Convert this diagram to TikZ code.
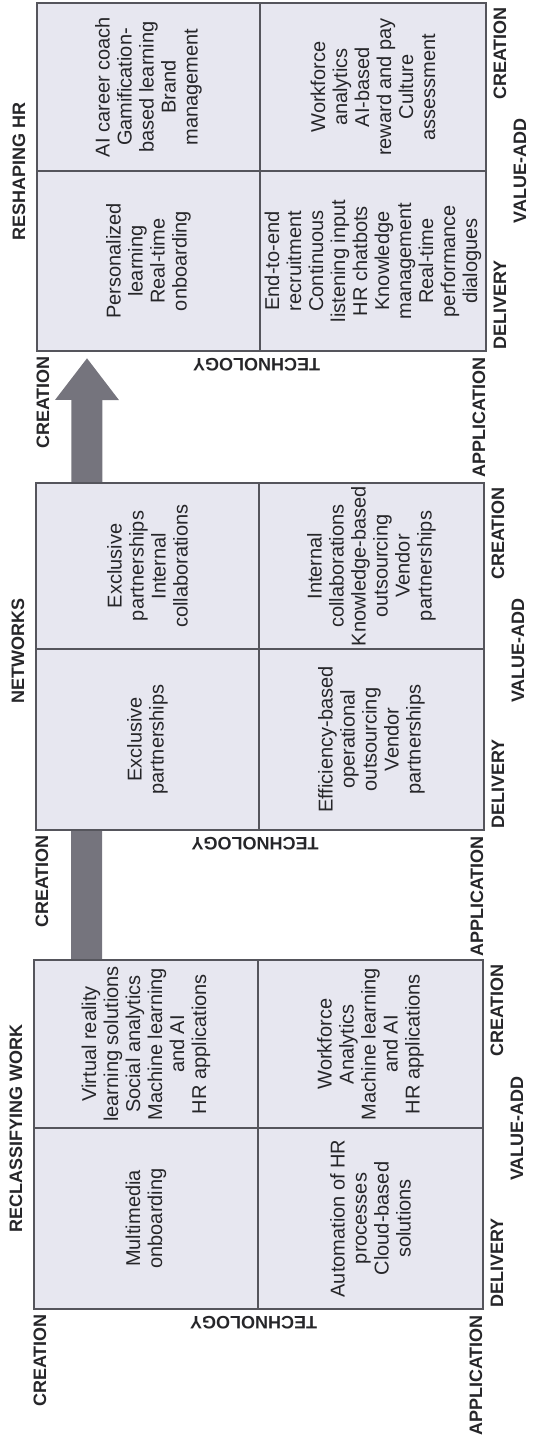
\documentclass[tikz,border=0pt]{standalone}
\usepackage{fontspec}
\setmainfont{Liberation Sans}
\usetikzlibrary{arrows.meta}
\definecolor{boxfill}{HTML}{E7E7F0}
\definecolor{boxline}{HTML}{55555C}
\definecolor{arrowgray}{HTML}{75747D}
\definecolor{ink}{HTML}{262629}

% One quadrant panel: #1 name, #2 left, #3 top, #4 right, #5 bottom,
% #6 column split, #7 row split, #8 title
\newcommand\hrpanel[8]{%
  \pgfmathsetmacro\pxc{(#2+#4)/2}%
  \pgfmathsetmacro\pyc{(#3+#5)/2}%
  \draw[panel] (#2,#3) rectangle (#4,#5);
  \draw[divider] (#6,#3) -- (#6,#5);
  \draw[divider] (#2,#7) -- (#4,#7);
  \coordinate (#1-a) at ({(#2+#6)/2},{(#3+#7)/2});
  \coordinate (#1-b) at ({(#2+#6)/2},{(#7+#5)/2});
  \coordinate (#1-c) at ({(#6+#4)/2},{(#3+#7)/2});
  \coordinate (#1-d) at ({(#6+#4)/2},{(#7+#5)/2});
  \node[axislabel, rotate=90] (#1-title) at ({#2-18},{\pyc-6}) {#8};
  \node[axislabel, rotate=90, anchor=east] (#1-create) at ({#2+6},{#5+5}) {CREATION};
  \node[axislabel, rotate=180] (#1-tech) at ({\pxc-5},{#5+14}) {TECHNOLOGY};
  \node[axislabel, rotate=90, anchor=east] (#1-apply) at ({#4-7},{#5+6}) {APPLICATION};
  \node[axislabel, rotate=90, anchor=west] (#1-deliv) at ({#4+14},{#5-1}) {DELIVERY};
  \node[axislabel, rotate=90] (#1-value) at ({#4+34},{\pyc-6}) {VALUE-ADD};
  \node[axislabel, rotate=90, anchor=east] (#1-vcreate) at ({#4+14},{#3+4}) {CREATION};
}

\begin{document}
\begin{tikzpicture}[x=1pt,y=-1pt,
  panel/.style={draw=boxline, fill=boxfill, line width=1.1pt},
  divider/.style={draw=boxline, line width=1.1pt},
  celltext/.style={rotate=90, align=center, text=ink, inner sep=0pt,
    font=\fontsize{20}{22}\selectfont},
  axislabel/.style={text=ink, inner sep=0pt,
    font=\bfseries\fontsize{18}{18}\selectfont},
  bigarrow/.style={draw=arrowgray, line width=31pt,
    -{Triangle[length=42pt,width=61pt,fill=arrowgray]}}]

\useasboundingbox (0,0) rectangle (541,1443);

% progression arrow, running behind the middle panel
\coordinate (arrow-start) at (86.5,960);
\coordinate (arrow-end) at (87,358);
\draw[bigarrow] (arrow-start) -- (arrow-end);

% panels
\hrpanel{p1}{37}{3}{486}{351}{260}{171}{RESHAPING HR}
\hrpanel{p2}{36}{483}{484}{830}{259}{649}{NETWORKS}
\hrpanel{p3}{34}{960}{483}{1309}{258}{1128}{RECLASSIFYING WORK}

% reshaping HR
\node[celltext] (p1-ta) at (p1-a) {AI career coach\\Gamification-\\based learning\\Brand\\management};
\node[celltext] (p1-tb) at (p1-b) {Personalized\\learning\\Real-time\\onboarding};
\node[celltext] (p1-tc) at (p1-c) {Workforce\\analytics\\AI-based\\reward and pay\\Culture\\assessment};
\node[celltext] (p1-td) at (p1-d) {End-to-end\\recruitment\\Continuous\\listening input\\HR chatbots\\Knowledge\\management\\Real-time\\performance\\dialogues};

% networks
\node[celltext] (p2-ta) at (p2-a) {Exclusive\\partnerships\\Internal\\collaborations};
\node[celltext] (p2-tb) at (p2-b) {Exclusive\\partnerships};
\node[celltext] (p2-tc) at (p2-c) {Internal\\collaborations\\Knowledge-based\\outsourcing\\Vendor\\partnerships};
\node[celltext] (p2-td) at (p2-d) {Efficiency-based\\operational\\outsourcing\\Vendor\\partnerships};

% reclassifying work
\node[celltext] (p3-ta) at (p3-a) {Virtual reality\\learning solutions\\Social analytics\\Machine learning\\and AI\\HR applications};
\node[celltext] (p3-tb) at (p3-b) {Multimedia\\onboarding};
\node[celltext] (p3-tc) at (p3-c) {Workforce\\Analytics\\Machine learning\\and AI\\HR applications};
\node[celltext] (p3-td) at (p3-d) {Automation of HR\\processes\\Cloud-based\\solutions};

\end{tikzpicture}
\end{document}
